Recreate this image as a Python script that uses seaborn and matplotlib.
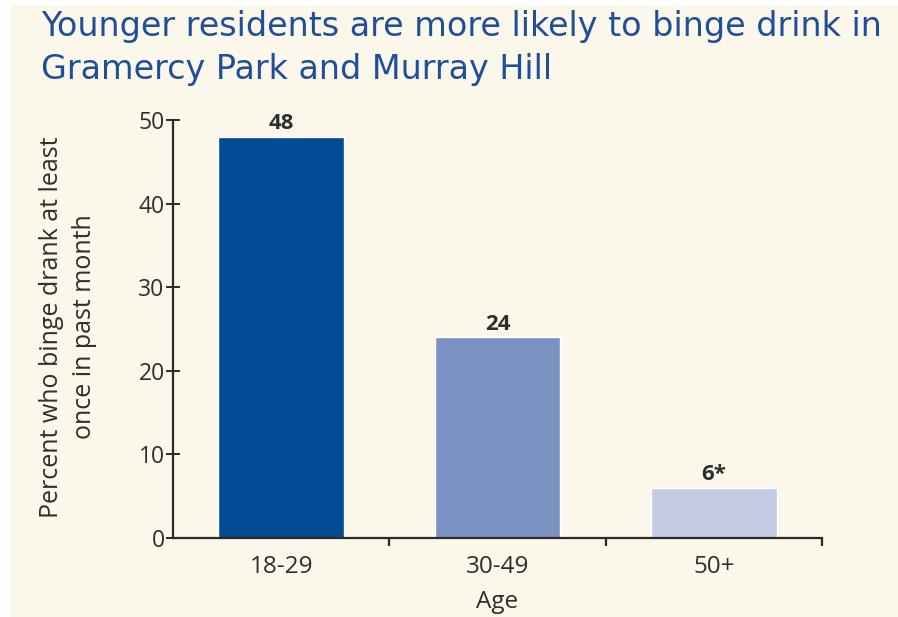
import matplotlib
matplotlib.use("Agg")
import matplotlib.pyplot as plt
import seaborn as sns
import pandas as pd
from matplotlib.patches import Rectangle
from matplotlib.ticker import FixedLocator

# Data
age_groups = ["18-29", "30-49", "50+"]
percents = [48, 24, 6]
value_labels = ["48", "24", "6*"]
bar_colors = ["#004b93", "#7b90c3", "#c2cae4"]

bg = "#fbf7ea"
text_col = "#2e2e2e"

sns.set_theme(style="ticks")
plt.rcParams['font.family'] = ['Open Sans', 'DejaVu Sans']

df = pd.DataFrame({"age": age_groups, "pct": percents})

fig = plt.figure(figsize=(8.98, 6.17), dpi=100, facecolor=bg)
# thin white border on the left and top
fig.patches.append(Rectangle((0, 0), 11 / 898, 1, transform=fig.transFigure,
                             facecolor="white", edgecolor="none", zorder=-10))
fig.patches.append(Rectangle((0, 1 - 5 / 617), 1, 5 / 617, transform=fig.transFigure,
                             facecolor="white", edgecolor="none", zorder=-10))

ax = fig.add_axes([173 / 898, 1 - 538 / 617, (822 - 173) / 898, (538 - 120) / 617])
ax.set_facecolor(bg)

sns.barplot(data=df, x="age", y="pct", hue="age", palette=bar_colors, legend=False,
            width=0.58, saturation=1, ax=ax)

ax.set_xlim(-0.5, 2.5)
ax.set_ylim(0, 50)

# value labels
for i, (v, lab) in enumerate(zip(percents, value_labels)):
    ax.text(i, v + 0.3, lab, ha="center", va="bottom", fontsize=16,
            fontweight="bold", color=text_col)

# spines
for s in ["top", "right"]:
    ax.spines[s].set_visible(False)
for s in ["left", "bottom"]:
    ax.spines[s].set_color("#2a2a2a")
    ax.spines[s].set_linewidth(1.6)

ax.set_yticks([0, 10, 20, 30, 40, 50])
ax.tick_params(axis="y", direction="inout", length=10, width=1.4, colors="#2a2a2a",
               labelsize=16.5, labelcolor=text_col, pad=1)
ax.set_xticks([0, 1, 2])
ax.set_xticklabels(age_groups)
ax.tick_params(axis="x", which="major", length=0, labelsize=17.5, labelcolor=text_col, pad=12)
ax.xaxis.set_minor_locator(FixedLocator([0.5, 1.5, 2.5]))
ax.tick_params(axis="x", which="minor", direction="out", length=6, width=1.6,
               colors="#2a2a2a")

ax.set_xlabel("Age", fontsize=17.5, color=text_col, labelpad=8)
ax.set_ylabel("Percent who binge drank at least\nonce in past month", fontsize=18,
              color=text_col, linespacing=1.4)
ax.yaxis.set_label_coords(-0.117, 0.505)

fig.text(41 / 898, 1 - 48 / 617, "Younger residents are more likely to binge drink in\n"
         "Gramercy Park and Murray Hill", ha="left", va="center", fontsize=24,
         color="#1f4e9a", linespacing=1.4, family=["DejaVu Sans"])

fig.savefig("out.png", dpi=100, facecolor=bg)
